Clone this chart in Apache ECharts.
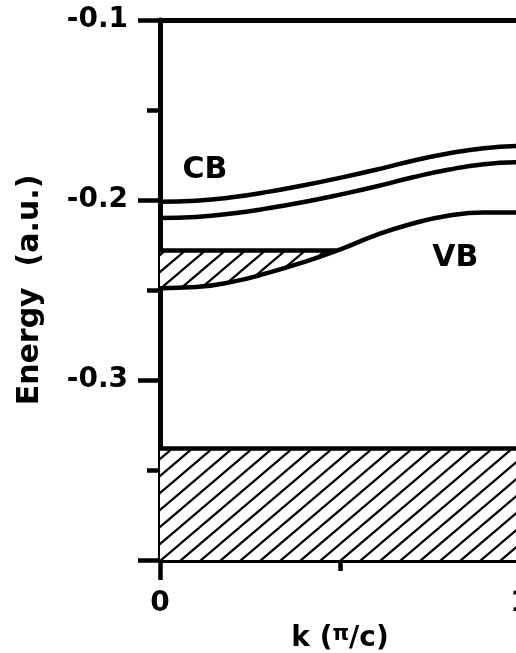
<!DOCTYPE html>
<html>
<head>
<meta charset="utf-8">
<script src="https://cdn.jsdelivr.net/npm/echarts@6/dist/echarts.min.js"></script>
<style>
  html, body { margin: 0; padding: 0; background: #fff; }
  #chart { width: 516px; height: 653px; }
</style>
</head>
<body>
<div id="chart"></div>
<script>
// k in units of pi/c, energies in a.u.
const kGrid = [0, 0.1, 0.2, 0.3, 0.4, 0.5, 0.6, 0.7, 0.8, 0.9, 1.0];
const cbUpper = [-0.201, -0.2004, -0.1985, -0.1955, -0.1918, -0.1877, -0.1832, -0.1783, -0.1742, -0.1712, -0.170];
const cbLower = [-0.210, -0.2094, -0.2075, -0.2046, -0.2011, -0.197, -0.1925, -0.1875, -0.1832, -0.1801, -0.179];
const vbE = [-0.249, -0.2484, -0.2455, -0.2405, -0.2345, -0.2275, -0.2195, -0.2132, -0.2088, -0.207, -0.207];
const fermiLevel = -0.228;
const fermiK = [0, 0.49];
const coreTop = -0.338;
const bandLabels = [
  { name: 'CB', k: 0.125, e: -0.1833 },
  { name: 'VB', k: 0.82, e: -0.2322 }
];

const FONT = 'DejaVu Sans';
const LW = 4.5;

// diagonal hatch pattern
function hatch() {
  const w = 20, h = 17;
  const c = document.createElement('canvas');
  c.width = w; c.height = h;
  const g = c.getContext('2d');
  g.fillStyle = '#fff';
  g.fillRect(0, 0, w, h);
  g.strokeStyle = '#000';
  g.lineWidth = 2.2;
  for (let n = 0; n <= 2; n++) {
    g.beginPath();
    g.moveTo(n * w + w, -h);
    g.lineTo(n * w - 2 * w, 2 * h);
    g.stroke();
  }
  return { image: c, repeat: 'repeat' };
}

const pair = (ks, es) => ks.map((k, i) => [k, es[i]]);
const vbPts = pair(kGrid, vbE);
const filled = vbPts.filter(p => p[0] <= 0.5);

const chart = echarts.init(document.getElementById('chart'));
chart.setOption({
  backgroundColor: '#fff',
  animation: false,
  grid: { left: 160, top: 20, width: 360, height: 540, outerBoundsMode: 'none' },
  xAxis: [{
    type: 'value', min: 0, max: 1, interval: 1, position: 'bottom',
    axisLine: { onZero: false, lineStyle: { color: '#000', width: 5 } },
    axisTick: { inside: false, length: 20, lineStyle: { color: '#000', width: LW } },
    minorTick: { show: true, splitNumber: 2, length: 11, lineStyle: { color: '#000', width: LW } },
    splitLine: { show: false },
    axisLabel: { color: '#000', fontSize: 28, fontWeight: 'bold', fontFamily: FONT, margin: 30 },
    name: '{a|k (}{b|π}{a|/c)}',
    nameLocation: 'middle',
    nameGap: 64,
    nameTextStyle: {
      rich: {
        a: { fontSize: 28, fontWeight: 'bold', fontFamily: FONT, color: '#000', lineHeight: 30 },
        b: { fontSize: 21, fontWeight: 'bold', fontFamily: FONT, color: '#000', verticalAlign: 'top', lineHeight: 30 }
      }
    }
  }, {
    type: 'value', min: 0, max: 1, position: 'top',
    axisLine: { onZero: false, lineStyle: { color: '#000', width: 5 } },
    axisTick: { show: false }, axisLabel: { show: false }, splitLine: { show: false }
  }],
  yAxis: {
    type: 'value', min: -0.4, max: -0.1, interval: 0.1,
    axisLine: { show: true, onZero: false, lineStyle: { color: '#000', width: 5 } },
    axisTick: { inside: false, length: 22, lineStyle: { color: '#000', width: LW } },
    minorTick: { show: true, splitNumber: 2, length: 13, lineStyle: { color: '#000', width: LW } },
    splitLine: { show: false },
    axisLabel: {
      color: '#000', fontSize: 28, fontWeight: 'bold', fontFamily: FONT, margin: 32,
      showMinLabel: false,
      formatter: v => v.toFixed(1)
    },
    name: 'Energy  (a.u.)',
    nameLocation: 'middle',
    nameGap: 115,
    nameTextStyle: { fontSize: 30, fontWeight: 'bold', fontFamily: FONT, color: '#000' }
  },
  series: [
    {
      // core band
      type: 'line', data: [[0, coreTop], [1, coreTop]], symbol: 'none',
      lineStyle: { color: '#000', width: LW },
      areaStyle: { origin: 'start', color: hatch(), opacity: 1 }, z: 2
    },
    {
      // occupied part of VB below Fermi level
      type: 'line', data: filled, symbol: 'none', smooth: 0.5,
      lineStyle: { width: 0 },
      areaStyle: { origin: fermiLevel, color: hatch(), opacity: 1 }, z: 1
    },
    {
      type: 'line', data: fermiK.map(k => [k, fermiLevel]), symbol: 'none',
      lineStyle: { color: '#000', width: LW }, z: 3
    },
    {
      type: 'line', data: vbPts, symbol: 'none', smooth: 0.5,
      lineStyle: { color: '#000', width: LW }, z: 3
    },
    {
      type: 'line', data: pair(kGrid, cbLower), symbol: 'none', smooth: 0.5,
      lineStyle: { color: '#000', width: LW }, z: 3
    },
    {
      type: 'line', data: pair(kGrid, cbUpper), symbol: 'none', smooth: 0.5,
      lineStyle: { color: '#000', width: LW }, z: 3
    },
    {
      type: 'scatter', symbolSize: 0, z: 4,
      itemStyle: { opacity: 1 },
      data: bandLabels.map(b => ({ name: b.name, value: [b.k, b.e] })),
      label: {
        show: true, position: 'inside', formatter: p => p.name,
        color: '#000', fontSize: 30, fontWeight: 'bold', fontFamily: FONT
      }
    }
  ]
});
</script>
</body>
</html>
